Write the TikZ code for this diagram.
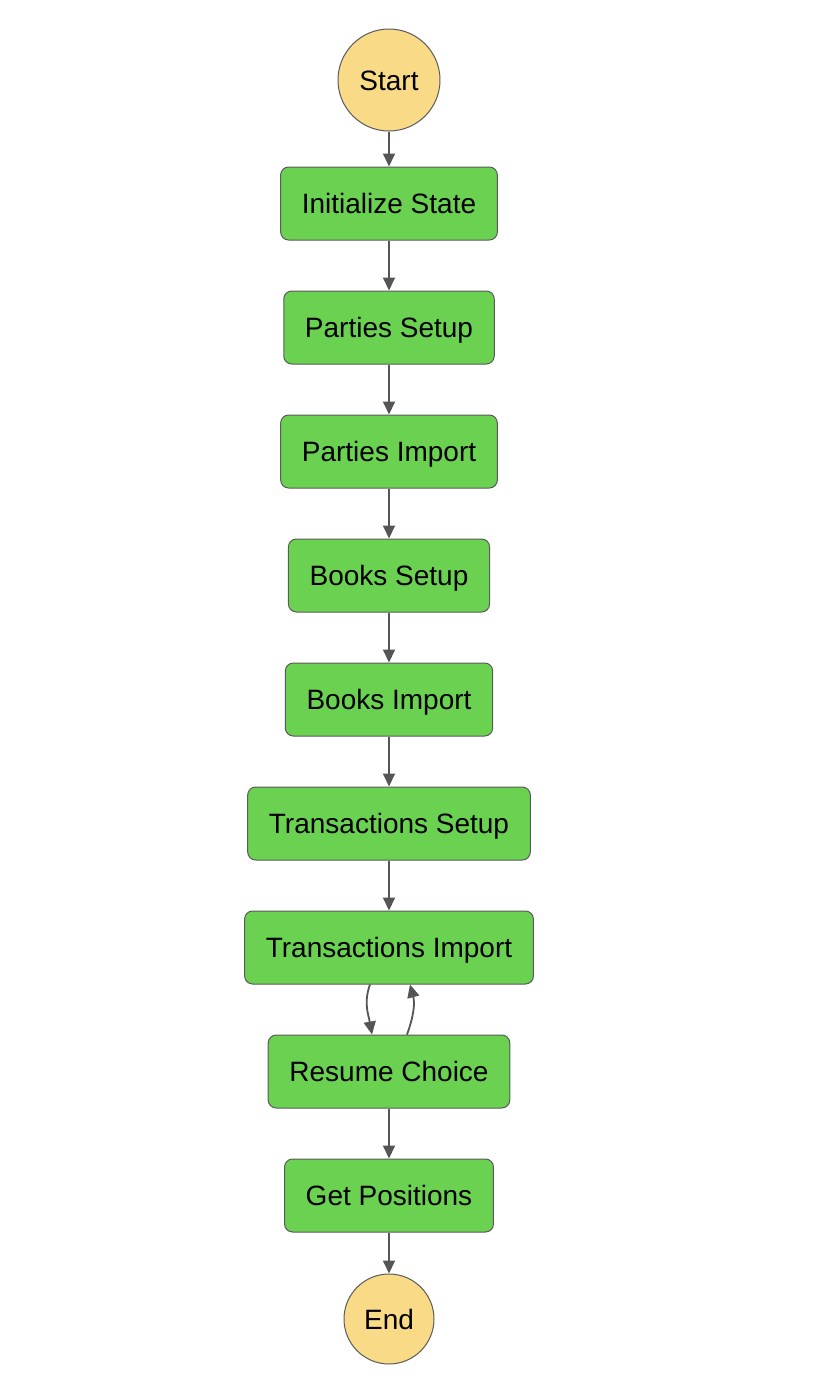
\documentclass[tikz,border=0pt]{standalone}
\usepackage{fontspec}
\setmainfont{Liberation Sans}
\usetikzlibrary{arrows.meta}

\definecolor{stategreen}{RGB}{106,209,81}
\definecolor{termyellow}{RGB}{249,218,135}
\definecolor{edgegray}{RGB}{85,85,85}
\definecolor{bordergray}{RGB}{90,90,90}

\tikzset{
  state/.style={draw=bordergray, line width=0.5pt, fill=stategreen, rounded corners=4pt,
    minimum height=36.5pt, inner xsep=10.6pt, text height=10pt, text depth=0pt,
    font=\fontsize{14}{17}\selectfont},
  term/.style={draw=bordergray, line width=0.5pt, fill=termyellow, circle, inner sep=0pt,
    text height=10pt, text depth=0pt, font=\fontsize{14}{17}\selectfont},
  flow/.style={draw=edgegray, line width=0.9pt, -{Triangle[length=6.5pt,width=6pt]}}
}

\begin{document}
\begin{tikzpicture}[x=0.5pt, y=-0.5pt]
  \useasboundingbox (0,0) rectangle (836,1398);

  % Inicio e fim
  \node[term, minimum size=51pt] (start) at (389,80) {Start};
  \node[term, minimum size=45pt] (end) at (389,1319) {End};

  % Estados
  \node[state] (init) at (389,203.5) {Initialize State};
  \node[state] (psetup) at (389,327.5) {Parties Setup};
  \node[state] (pimport) at (389,451.5) {Parties Import};
  \node[state] (bsetup) at (389,575.5) {Books Setup};
  \node[state] (bimport) at (389,699.5) {Books Import};
  \node[state] (tsetup) at (389,823.5) {Transactions Setup};
  \node[state] (timport) at (389,947.5) {Transactions Import};
  \node[state] (resume) at (389,1071.5) {Resume Choice};
  \node[state] (getpos) at (389,1195.5) {Get Positions};

  % Ligacoes
  \draw[flow] (start) -- (init);
  \draw[flow] (init) -- (psetup);
  \draw[flow] (psetup) -- (pimport);
  \draw[flow] (pimport) -- (bsetup);
  \draw[flow] (bsetup) -- (bimport);
  \draw[flow] (bimport) -- (tsetup);
  \draw[flow] (tsetup) -- (timport);
  \draw[flow] ([xshift=-9.5pt]timport.south) to[out=-110, in=100] ([xshift=-8.5pt]resume.north);
  \draw[flow] ([xshift=9pt]resume.north) to[out=70, in=-75] ([xshift=10.5pt]timport.south);
  \draw[flow] (resume) -- (getpos);
  \draw[flow] (getpos) -- (end);
\end{tikzpicture}
\end{document}
